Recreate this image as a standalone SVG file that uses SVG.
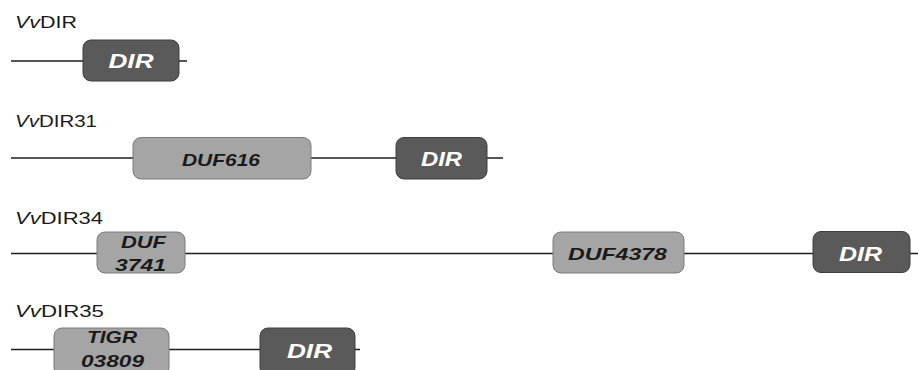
<svg xmlns="http://www.w3.org/2000/svg" width="918" height="370" viewBox="0 0 918 370">
<style>
.bg{fill:#ffffff}
.line{stroke:#1e1e1e;stroke-width:1.6;fill:none}
.dark{fill:#5a5a5a;stroke:#3e3e3e;stroke-width:1}
.light{fill:#a5a5a5;stroke:#7a7a7a;stroke-width:1}
.lbl{font-family:"Liberation Sans",Arial,sans-serif;font-size:17px;fill:#1a1a1a}
.dt{font-family:"Liberation Sans",Arial,sans-serif;font-size:21px;font-weight:bold;font-style:italic;fill:#ffffff;text-anchor:middle}
.lt{font-family:"Liberation Sans",Arial,sans-serif;font-size:17px;font-weight:bold;font-style:italic;fill:#1a1a1a;text-anchor:middle}
</style>
<rect class="bg" x="0" y="0" width="918" height="370"/>
<g id="connectors">
<line class="line" x1="11" y1="61" x2="187" y2="61"/>
<line class="line" x1="11" y1="158" x2="503" y2="158"/>
<line class="line" x1="11" y1="253.5" x2="918" y2="253.5"/>
<line class="line" x1="11" y1="349.5" x2="360" y2="349.5"/>
</g>
<g id="VvDIR">
<text class="lbl" x="15" y="28" textLength="62" lengthAdjust="spacingAndGlyphs"><tspan font-style="italic">Vv</tspan>DIR</text>
<g id="VvDIR-DIR">
<rect class="dark" x="83" y="40" width="96" height="41" rx="8"/>
<text class="dt" x="131" y="68" textLength="45" lengthAdjust="spacingAndGlyphs">DIR</text>
</g>
</g>
<g id="VvDIR31">
<text class="lbl" x="15" y="127" textLength="82" lengthAdjust="spacingAndGlyphs"><tspan font-style="italic">Vv</tspan>DIR31</text>
<g id="VvDIR31-DUF616">
<rect class="light" x="133" y="137.5" width="178" height="41.5" rx="8"/>
<text class="lt" x="221" y="166" textLength="78" lengthAdjust="spacingAndGlyphs">DUF616</text>
</g>
<g id="VvDIR31-DIR">
<rect class="dark" x="396" y="137.5" width="91" height="41.5" rx="8"/>
<text class="dt" x="441.5" y="166" textLength="41" lengthAdjust="spacingAndGlyphs">DIR</text>
</g>
</g>
<g id="VvDIR34">
<text class="lbl" x="15" y="224" textLength="88" lengthAdjust="spacingAndGlyphs"><tspan font-style="italic">Vv</tspan>DIR34</text>
<g id="VvDIR34-DUF3741">
<rect class="light" x="97" y="232" width="88" height="41" rx="8"/>
<text class="lt" x="143.5" y="248" textLength="45" lengthAdjust="spacingAndGlyphs">DUF</text>
<text class="lt" x="140.5" y="271" textLength="51" lengthAdjust="spacingAndGlyphs">3741</text>
</g>
<g id="VvDIR34-DUF4378">
<rect class="light" x="553" y="232" width="131" height="41" rx="8"/>
<text class="lt" x="617.5" y="260" textLength="99" lengthAdjust="spacingAndGlyphs">DUF4378</text>
</g>
<g id="VvDIR34-DIR">
<rect class="dark" x="813" y="231.5" width="97" height="41" rx="8"/>
<text class="dt" x="860.5" y="261" textLength="43" lengthAdjust="spacingAndGlyphs">DIR</text>
</g>
</g>
<g id="VvDIR35">
<text class="lbl" x="15" y="317" textLength="89" lengthAdjust="spacingAndGlyphs"><tspan font-style="italic">Vv</tspan>DIR35</text>
<g id="VvDIR35-TIGR03809">
<rect class="light" x="54" y="328" width="115" height="48" rx="8"/>
<text class="lt" x="112" y="343" textLength="50" lengthAdjust="spacingAndGlyphs">TIGR</text>
<text class="lt" x="112.5" y="367" textLength="63" lengthAdjust="spacingAndGlyphs">03809</text>
</g>
<g id="VvDIR35-DIR">
<rect class="dark" x="260" y="328" width="95" height="48" rx="8"/>
<text class="dt" x="309.5" y="358" textLength="45" lengthAdjust="spacingAndGlyphs">DIR</text>
</g>
</g>
</svg>
